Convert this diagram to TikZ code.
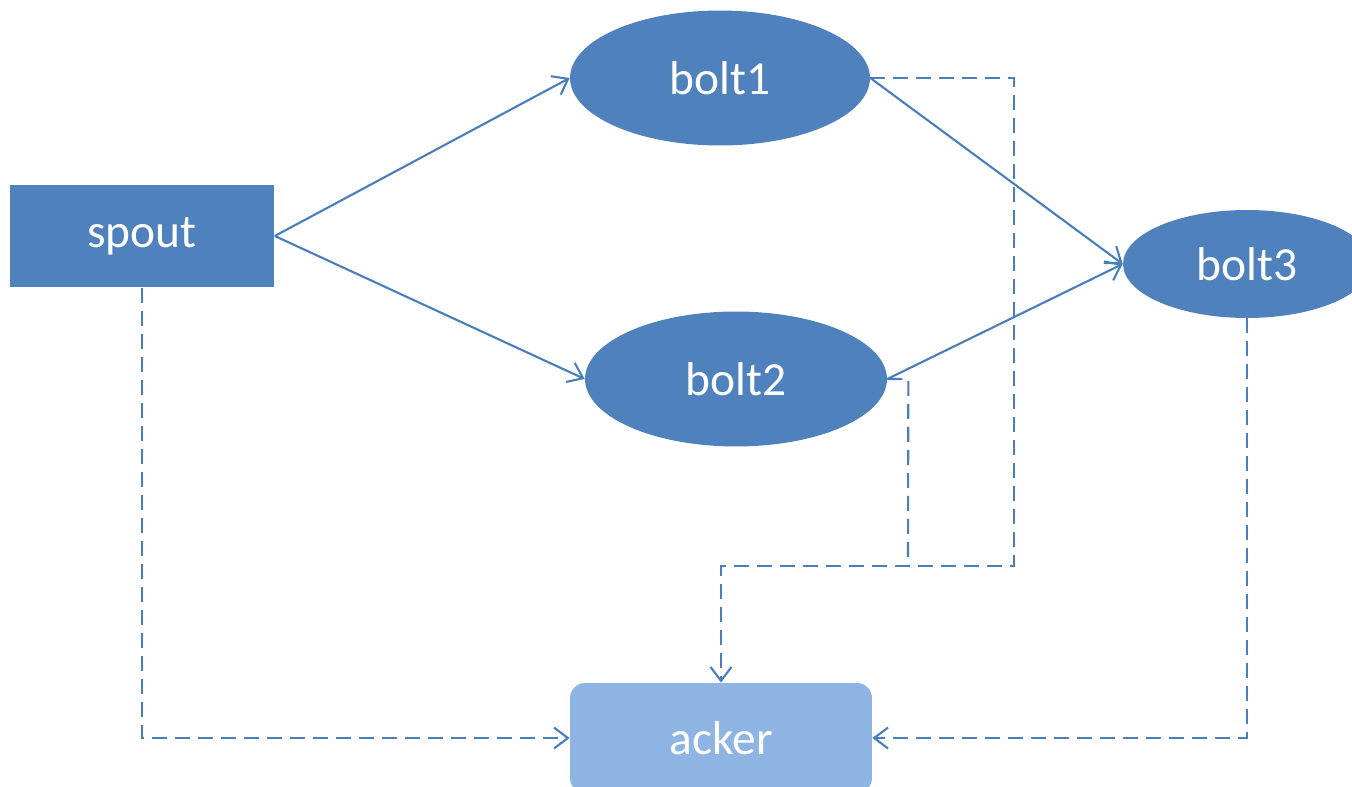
\documentclass[tikz,border=0pt]{standalone}
\usepackage{fontspec}
\setmainfont{Carlito}
\usetikzlibrary{arrows.meta, shapes.geometric}

\begin{document}
\begin{tikzpicture}[x=0.02cm, y=-0.02cm]
    % Define colors
    \definecolor{nodecolor}{RGB}{79, 129, 189}
    \definecolor{ackercolor}{RGB}{142, 180, 227}
    \definecolor{linecolor}{RGB}{74, 126, 187}

    % Styles
    \tikzset{
        box/.style={rectangle, fill=nodecolor, text=white, inner sep=0pt,
            font=\fontsize{27}{32}\selectfont},
        boltnode/.style={ellipse, fill=nodecolor, text=white, inner sep=0pt,
            font=\fontsize{27}{32}\selectfont},
        ackernode/.style={rectangle, rounded corners=0.3cm, fill=ackercolor, text=white,
            inner sep=0pt, font=\fontsize{27}{32}\selectfont},
        flow/.style={linecolor, line width=1.2pt,
            -{Straight Barb[length=0.28cm, width=0.42cm, line width=1.2pt]}},
        ackline/.style={flow, dash pattern=on 0.3cm off 0.16cm},
    }

    % Picture size
    \useasboundingbox (0,0) rectangle (1352,787);
    \clip (0,0) rectangle (1352,787);

    % Nodes
    \node[box, minimum width=5.3cm, minimum height=2.06cm] (spout) at (142,236) {spout};
    \node[boltnode, minimum width=6cm, minimum height=2.7cm] (bolt1) at (720,78) {bolt1};
    \node[boltnode, minimum width=6.04cm, minimum height=2.7cm] (bolt2) at (736,379) {bolt2};
    \node[boltnode, minimum width=4.96cm, minimum height=2.16cm] (bolt3) at (1247,264) {bolt3};
    \node[ackernode, minimum width=6.04cm, minimum height=2.2cm] (acker) at (721,738) {acker};

    % Tuple flow
    \draw[flow] (spout.east) -- (bolt1.west);
    \draw[flow] (spout.east) -- (bolt2.west);
    \draw[flow] (bolt1.east) -- (bolt3.west);
    \draw[flow] (bolt2.east) -- (bolt3.west);

    % Ack flow
    \coordinate (join) at (908,566);
    \draw[ackline] (bolt1.east) -| (1014,566) -| (acker.north);
    \draw[ackline, -] (bolt2.east) -- ++(21,0) -- (join);
    \draw[ackline] (spout.south) |- (acker.west);
    \draw[ackline] (bolt3.south) |- (acker.east);

\end{tikzpicture}
\end{document}
